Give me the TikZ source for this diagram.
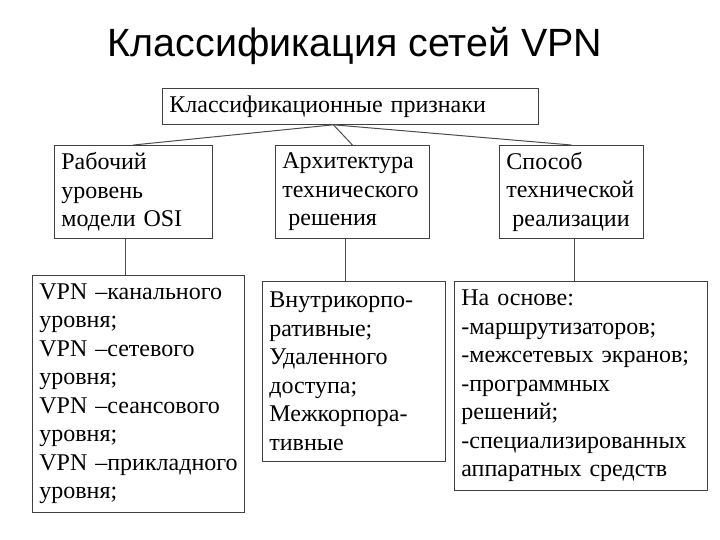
\documentclass[tikz,border=0pt]{standalone}
\usepackage{fontspec}
\setmainfont{Liberation Serif}
\newfontfamily\titlefont{Liberation Sans}
\usetikzlibrary{positioning}

\begin{document}
\begin{tikzpicture}[x=1pt, y=-1pt,
    box/.style={draw=black!75, line width=0.8pt, anchor=north west, align=left,
      inner xsep=7pt, inner ysep=2pt, font=\fontsize{24}{28.5}\selectfont},
    link/.style={draw=black!70, line width=1pt}]
  \useasboundingbox (0,0) rectangle (720,540);

  % Title
  \node[font=\titlefont\fontsize{39.4}{44}\selectfont] (title) at (355,46) {Классификация сетей VPN};

  % Root box
  \node[box, minimum width=376pt, minimum height=36pt, text width=362pt] (root) at (162,88) {Классификационные признаки};
  \coordinate (hub) at ([xshift=-17pt]root.south);

  % Second level
  \node[box, minimum height=93pt, text width=144pt] (osi) at (54,145) {Рабочий\\уровень\\модели OSI};
  \node[box, minimum height=93pt, text width=140pt] (arch) at (275,145) {Архитектура\\технического\\\hspace*{0.25em}решения};
  \node[box, minimum height=93pt, text width=130pt] (impl) at (499,145) {Способ\\технической\\\hspace*{0.25em}реализации};

  \draw[link] (hub) -- (osi.north);
  \draw[link] (hub) -- (arch.north);
  \draw[link] (hub) -- (impl.north);

  % Third level
  \node[box, minimum height=237pt, text width=198pt] (layers) at (32,275)
    {\mbox{VPN –канального}\\уровня;\\\mbox{VPN –сетевого}\\уровня;\\\mbox{VPN –сеансового}\\уровня;\\\mbox{VPN –прикладного}\\уровня;};
  \node[box, minimum height=180pt, text width=169pt] (kinds) at (262,281)
    {Внутрикорпо-\\ративные;\\Удаленного\\доступа;\\Межкорпора-\\тивные};
  \node[box, minimum height=209pt, text width=239pt] (means) at (454,281)
    {На основе:\\-маршрутизаторов;\\\mbox{-межсетевых экранов;}\\-программных\\решений;\\-специализированных\\\mbox{аппаратных средств}};

  \draw[link] ([xshift=-8pt]osi.south) -- ([xshift=-8pt]osi.south |- layers.north);
  \draw[link] ([xshift=-7pt]arch.south) -- ([xshift=-7pt]arch.south |- kinds.north);
  \draw[link] ([xshift=3pt]impl.south) -- ([xshift=3pt]impl.south |- means.north);
\end{tikzpicture}
\end{document}
